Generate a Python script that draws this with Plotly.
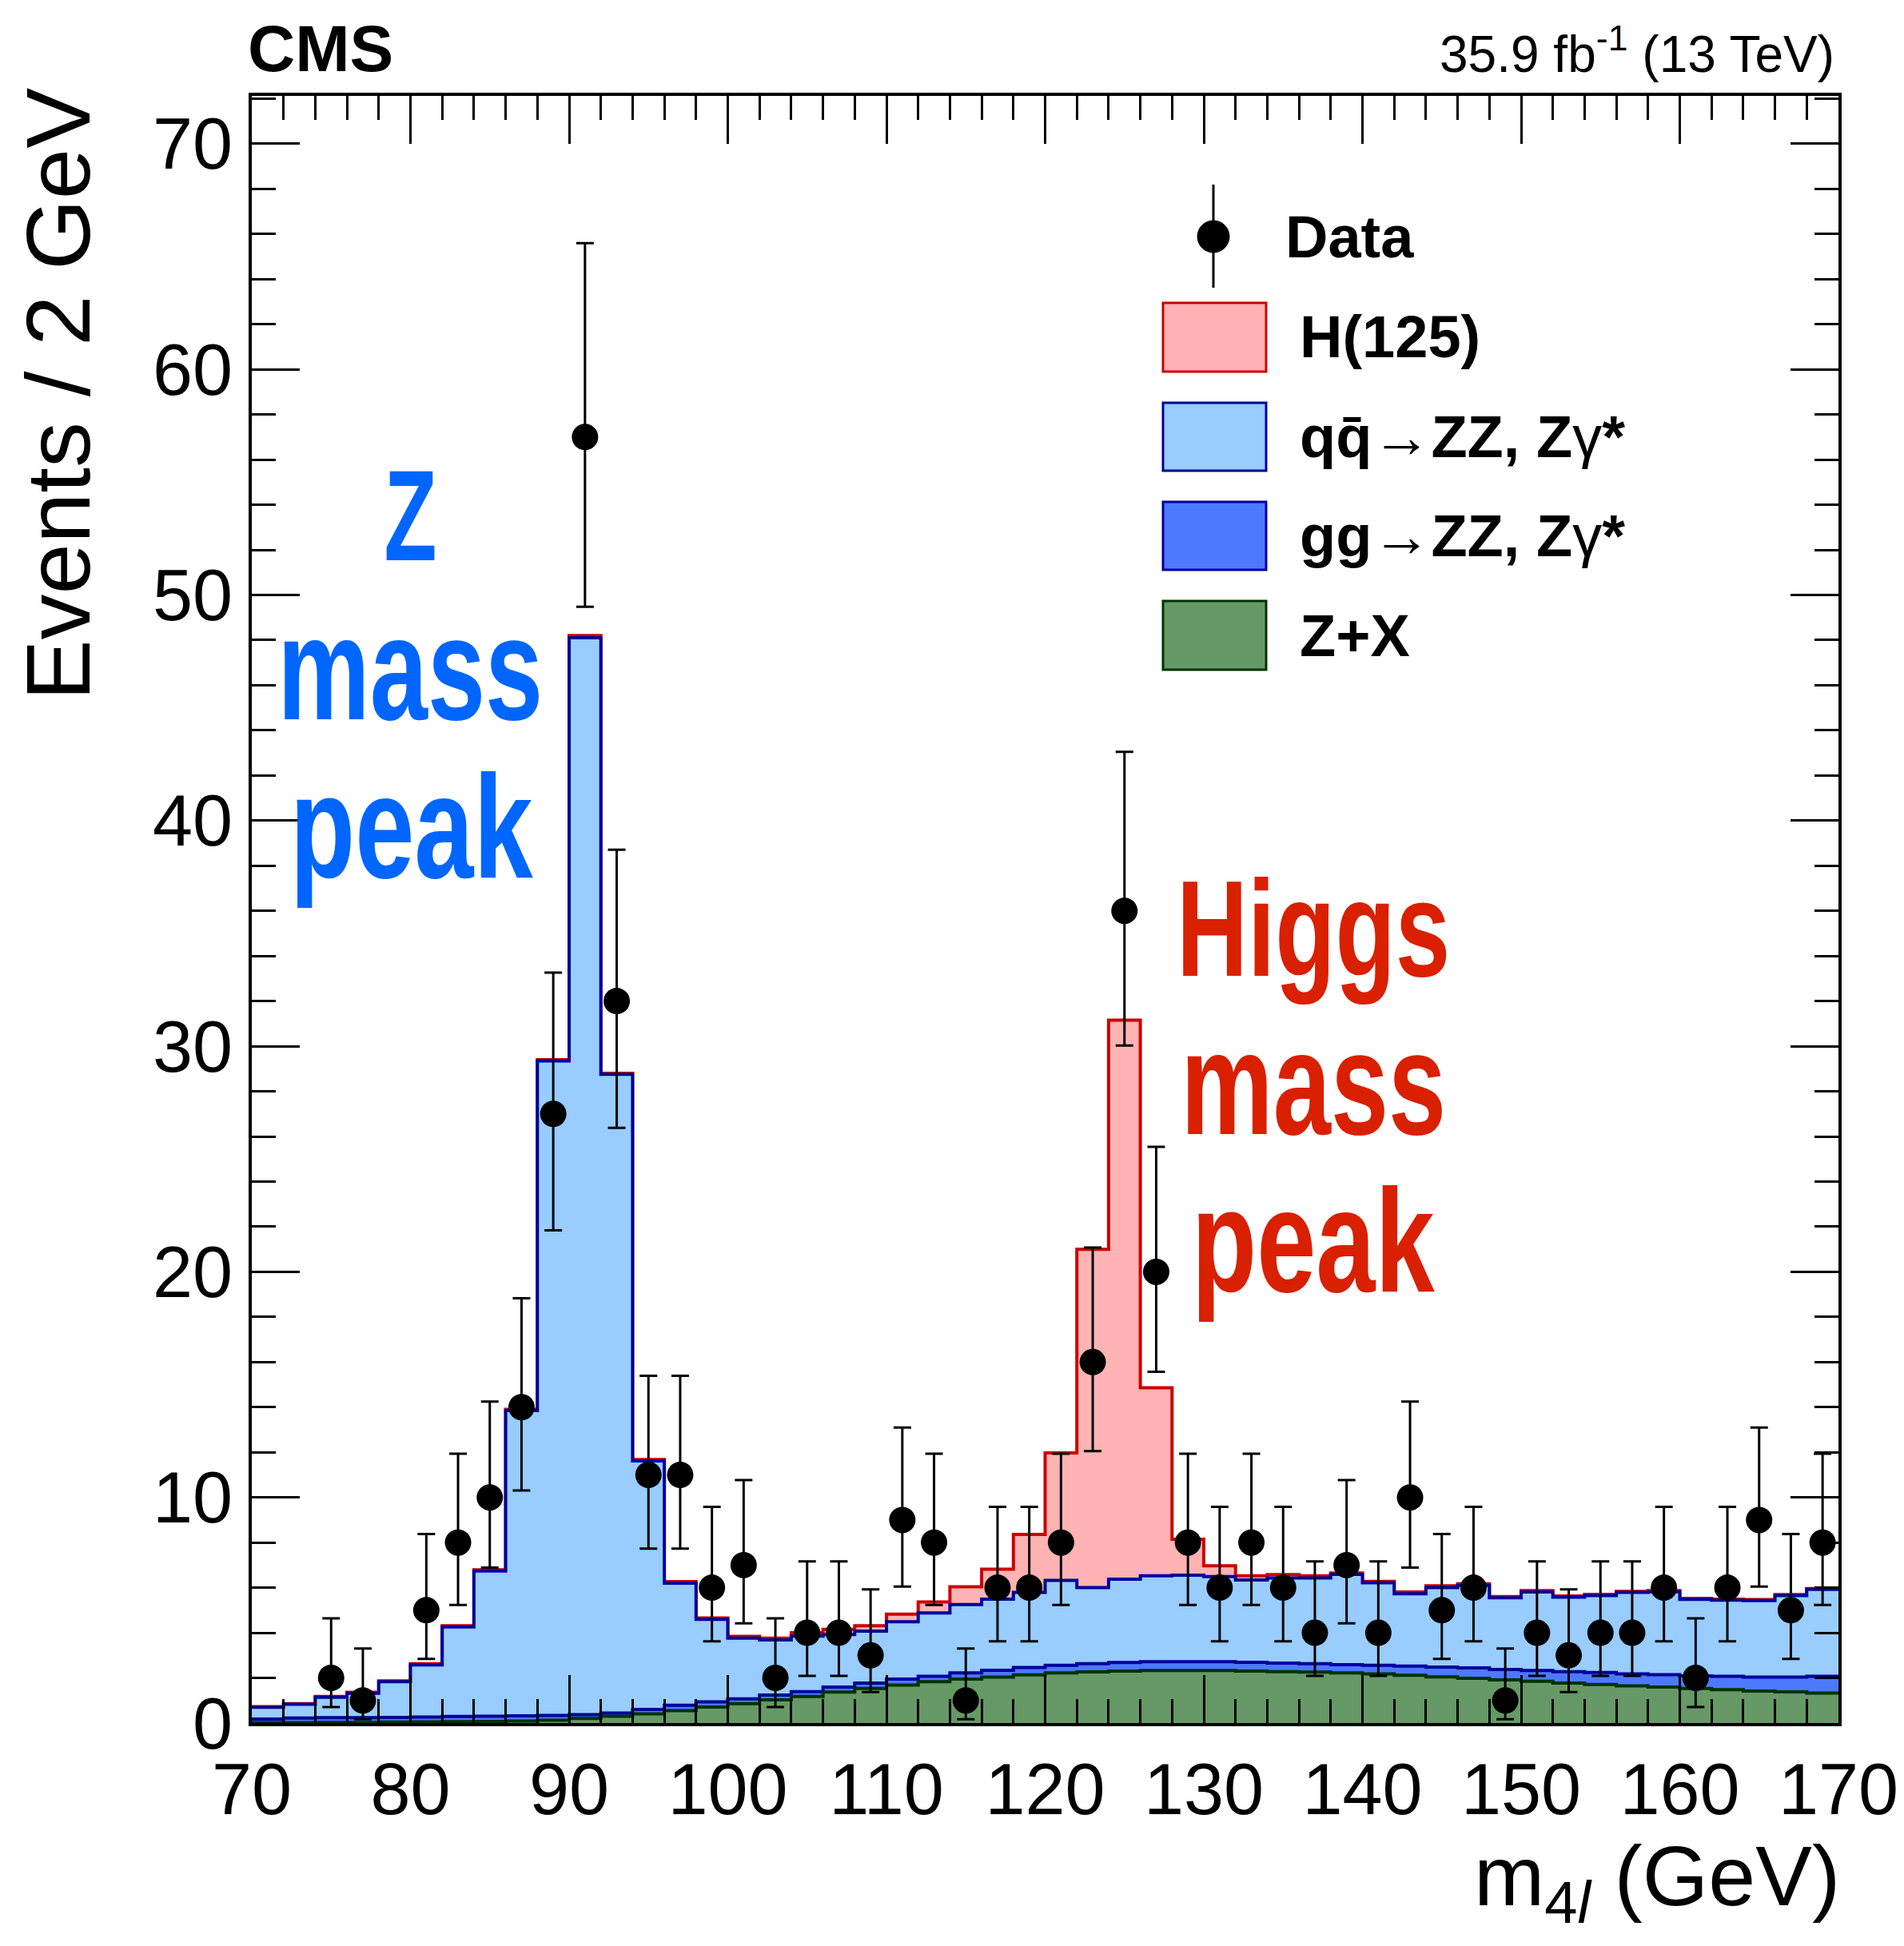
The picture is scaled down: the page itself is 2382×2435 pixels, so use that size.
import plotly.graph_objects as go

# ---------------- data ----------------
bin_edges = list(range(70, 172, 2))            # 70 ... 170, 2 GeV bins
bin_centers = [e + 1 for e in bin_edges[:-1]]  # 71 ... 169

# stacked histogram levels (top of each stack component)
stack_zx = [0.02, 0.02, 0.03, 0.03, 0.04, 0.05, 0.06, 0.07, 0.09, 0.12,
            0.20, 0.30, 0.41, 0.55, 0.71, 0.86, 1.03, 1.18, 1.37, 1.53,
            1.68, 1.83, 1.95, 2.04, 2.13, 2.22, 2.27, 2.30, 2.33, 2.33,
            2.33, 2.30, 2.28, 2.26, 2.22, 2.18, 2.12, 2.05, 1.98, 1.91,
            1.85, 1.77, 1.71, 1.65, 1.59, 1.53, 1.48, 1.42, 1.38, 1.33]
stack_gg = [0.18, 0.22, 0.24, 0.24, 0.25, 0.27, 0.29, 0.30, 0.32, 0.34,
            0.37, 0.44, 0.60, 0.79, 0.94, 1.07, 1.24, 1.39, 1.59, 1.77,
            1.95, 2.07, 2.22, 2.34, 2.46, 2.56, 2.63, 2.68, 2.72, 2.72,
            2.72, 2.69, 2.66, 2.63, 2.59, 2.56, 2.52, 2.48, 2.44, 2.37,
            2.33, 2.28, 2.24, 2.18, 2.14, 2.09, 2.07, 2.04, 2.04, 2.07]
stack_qq = [0.70, 0.83, 1.14, 1.32, 1.83, 2.58, 4.26, 6.74, 13.85, 29.35,
            48.10, 28.75, 11.62, 6.20, 4.60, 3.76, 3.68, 3.85, 3.92, 4.07,
            4.49, 4.88, 5.25, 5.49, 5.79, 6.32, 6.00, 6.38, 6.53, 6.55,
            6.49, 6.34, 6.43, 6.43, 6.59, 6.22, 5.73, 6.00, 6.10, 5.55,
            5.81, 5.58, 5.65, 5.79, 5.82, 5.48, 5.45, 5.43, 5.65, 5.92]
stack_h = [0.73, 0.86, 1.18, 1.36, 1.87, 2.63, 4.31, 6.79, 13.90, 29.40,
           48.20, 28.80, 11.68, 6.27, 4.66, 3.84, 3.76, 4.00, 4.15, 4.31,
           4.83, 5.37, 6.04, 6.82, 8.36, 11.97, 21.00, 31.15, 14.86, 8.15,
           6.97, 6.53, 6.58, 6.53, 6.65, 6.28, 5.81, 6.08, 6.17, 5.61,
           5.87, 5.63, 5.70, 5.84, 5.87, 5.53, 5.49, 5.47, 5.69, 5.96]

# observed events per bin
data_counts = [0, 0, 2, 1, 0, 5, 8, 10, 14, 27,
               57, 32, 11, 11, 6, 7, 2, 4, 4, 3,
               9, 8, 1, 6, 6, 8, 16, 36, 20, 8,
               6, 8, 6, 4, 7, 4, 10, 5, 6, 1,
               4, 3, 4, 4, 6, 2, 6, 9, 5, 8]
# Poisson interval bounds shown by the error bars
interval_lo = {1: 0.17, 2: 0.71, 3: 1.37, 4: 2.09, 5: 2.84, 6: 3.62, 7: 4.42,
               8: 5.23, 9: 6.05, 10: 6.89, 11: 7.73, 14: 10.31, 16: 12.05,
               20: 15.57, 27: 21.84, 32: 26.38, 36: 30.03, 57: 49.48}
interval_hi = {1: 3.30, 2: 4.64, 3: 5.92, 4: 7.16, 5: 8.38, 6: 9.58, 7: 10.77,
               8: 11.94, 9: 13.10, 10: 14.25, 11: 15.39, 14: 18.83, 16: 21.08,
               20: 25.54, 27: 33.26, 32: 38.71, 36: 43.05, 57: 65.59}

x_ticks = [70, 80, 90, 100, 110, 120, 130, 140, 150, 160, 170]
y_ticks = [0, 10, 20, 30, 40, 50, 60, 70]

# ---------------- geometry ----------------
W, H = 2382, 2435
ML, MR, MT, MB = 307, 90, 112, 287
PW, PH = W - ML - MR, H - MT - MB


def px(xp):
    return (xp - ML) / PW


def py(yp):
    return (H - MB - yp) / PH


FONT = "Liberation Sans, Arial, Helvetica, sans-serif"

fig = go.Figure()

layers = [
    (stack_h, "#ffb3b3", "#cc0000"),
    (stack_qq, "#99ccff", "#000099"),
    (stack_gg, "#4d79ff", "#000099"),
    (stack_zx, "#669966", "#003300"),
]
for levels, fillc, linec in layers:
    fig.add_trace(go.Scatter(
        x=bin_edges, y=levels + [levels[-1]], mode="lines",
        line=dict(shape="hv", color=linec, width=4),
        fill="tozeroy", fillcolor=fillc, hoverinfo="skip", showlegend=False))

dx, dy, em, ep = [], [], [], []
for c, n in zip(bin_centers, data_counts):
    if n > 0:
        dx.append(c)
        dy.append(n)
        em.append(n - interval_lo[n])
        ep.append(interval_hi[n] - n)

fig.add_trace(go.Scatter(
    x=dx, y=dy, mode="markers",
    marker=dict(color="black", size=33, symbol="circle"),
    error_y=dict(type="data", array=ep, arrayminus=em, symmetric=False,
                 color="black", thickness=3, width=11),
    showlegend=False))

axis_common = dict(
    ticks="inside", ticklen=60, tickwidth=3, tickcolor="black",
    showline=True, linewidth=4, linecolor="black", mirror="allticks",
    showgrid=False, zeroline=False,
    tickfont=dict(family=FONT, size=90, color="black"),
)
fig.update_xaxes(range=[70, 170], tickmode="array", tickvals=x_ticks,
                 ticktext=[str(v) for v in x_ticks],
                 minor=dict(ticks="inside", ticklen=30, tickwidth=3,
                            tickcolor="black", tickmode="linear", tick0=70, dtick=2),
                 ticklabelstandoff=2, **axis_common)
fig.update_yaxes(range=[0, 72.12], tickmode="array", tickvals=y_ticks,
                 ticktext=[str(v) for v in y_ticks],
                 minor=dict(ticks="inside", ticklen=30, tickwidth=3,
                            tickcolor="black", tickmode="linear", tick0=0, dtick=2),
                 ticklabelstandoff=2, **axis_common)

ann = []
# header
ann.append(dict(text="<b>CMS</b>", x=px(300), y=py(100), xref="paper", yref="paper",
                xanchor="left", yanchor="bottom", showarrow=False,
                font=dict(family=FONT, size=82, color="black")))
ann.append(dict(text="35.9 fb<sup>-1</sup> (13 TeV)", x=px(2289), y=py(98), xref="paper",
                yref="paper", xanchor="right", yanchor="bottom", showarrow=False,
                font=dict(family=FONT, size=64, color="black")))
# axis titles
ann.append(dict(text="Events / 2 GeV", x=px(64), y=py(100), xref="paper", yref="paper",
                xanchor="center", yanchor="top", textangle=-90, showarrow=False,
                font=dict(family=FONT, size=114, color="black")))
ann.append(dict(text="m<sub>4<i>l</i></sub> (GeV)", x=px(2296), y=py(2347), xref="paper",
                yref="paper", xanchor="right", yanchor="middle", showarrow=False,
                font=dict(family=FONT, size=106, color="black")))
# peak labels (condensed via textLength in post script)
peak_labels = [
    ("Z", 80.0, 53.55, 162, "#0066ff"),
    ("mass", 80.0, 46.76, 184, "#0066ff"),
    ("peak", 80.1, 39.73, 184, "#0066ff"),
    ("Higgs", 136.9, 35.2, 170, "#d92000"),
    ("mass", 136.95, 28.36, 184, "#d92000"),
    ("peak", 136.9, 21.38, 184, "#d92000"),
]
for txt, xv, yv, fs, col in peak_labels:
    ann.append(dict(text=txt, x=xv, y=yv, xref="x", yref="y",
                    xanchor="center", yanchor="middle", showarrow=False,
                    font=dict(family=FONT, size=fs, color=col, weight="bold")))

# legend
shapes = []
legend_boxes = [
    ("<b>H(125)</b>", "#ffb3b3", "#cc0000", 371, 457),
    ("<b>qq\u0304</b>\u2192<b>ZZ, Z</b>\u03b3<b>*</b>", "#99ccff", "#000099", 496, 581),
    ("<b>gg</b>\u2192<b>ZZ, Z</b>\u03b3<b>*</b>", "#4d79ff", "#000099", 620, 705),
    ("<b>Z+X</b>", "#669966", "#003300", 744, 830),
]
for label, fc, lc, top, bot in legend_boxes:
    shapes.append(dict(type="rect", xref="paper", yref="paper",
                       x0=px(1447), x1=px(1576), y0=py(bot), y1=py(top),
                       fillcolor=fc, line=dict(color=lc, width=3)))
    ann.append(dict(text=label, x=px(1616), y=py((top + bot) / 2),
                    xref="paper", yref="paper", xanchor="left", yanchor="middle",
                    showarrow=False, font=dict(family=FONT, size=74, color="black")))
shapes.append(dict(type="line", xref="paper", yref="paper", x0=px(1510), x1=px(1510),
                   y0=py(352), y1=py(223), line=dict(color="black", width=3)))
shapes.append(dict(type="circle", xref="paper", yref="paper", x0=px(1490), x1=px(1530),
                   y0=py(308), y1=py(268), fillcolor="black", line=dict(color="black", width=1)))
ann.append(dict(text="<b>Data</b>", x=px(1598), y=py(288), xref="paper", yref="paper",
                xanchor="left", yanchor="middle", showarrow=False,
                font=dict(family=FONT, size=74, color="black")))

fig.update_layout(
    width=W, height=H,
    margin=dict(l=ML, r=MR, t=MT, b=MB, autoexpand=False),
    paper_bgcolor="white", plot_bgcolor="white",
    showlegend=False, annotations=ann, shapes=shapes,
)

post_script = """
var gd = document.getElementById('{plot_id}');
var widths = {"Z": 66, "Higgs": 342, "mass": 332, "peak": 304};
function squeeze() {
  gd.querySelectorAll('g.annotation text.annotation-text').forEach(function (t) {
    var k = (t.textContent || '').trim();
    if (Object.prototype.hasOwnProperty.call(widths, k)) {
      t.setAttribute('textLength', widths[k]);
      t.setAttribute('lengthAdjust', 'spacingAndGlyphs');
    }
  });
}
squeeze();
gd.on('plotly_afterplot', squeeze);
"""

fig.write_html("out.html", post_script=post_script)
